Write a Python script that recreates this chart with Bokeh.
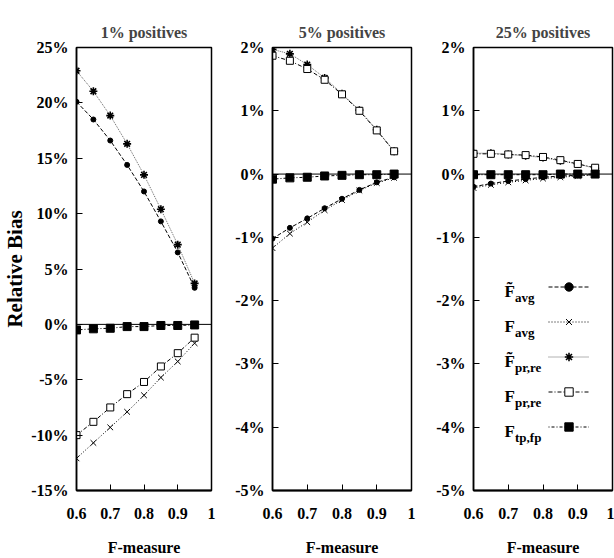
from bokeh.plotting import figure
from bokeh.layouts import row
from bokeh.models import (FixedTicker, CustomJSTickFormatter, Span, Legend,
                          LegendItem, Label, Range1d)
from bokeh.embed import file_html
from bokeh.resources import INLINE

# ---------------- data ----------------
X = [0.6, 0.65, 0.7, 0.75, 0.8, 0.85, 0.9, 0.95]
TITLES = ["1% positives", "5% positives", "25% positives"]
X_TICKS = [0.6, 0.7, 0.8, 0.9, 1.0]
Y_TICKS_1 = [-15, -10, -5, 0, 5, 10, 15, 20, 25]
Y_TICKS_2 = [-5, -4, -3, -2, -1, 0, 1, 2]
X_LABEL = "F-measure"
Y_LABEL = "Relative Bias"

SERIES = ["ft_avg", "f_avg", "ft_prre", "f_prre", "f_tpfp"]
LEGEND_BASE = ["F\u0303", "F", "F\u0303", "F", "F"]
LEGEND_SUB = ["avg", "avg", "pr,re", "pr,re", "tp,fp"]

# 1% positives
P1_FT_AVG = [20.1, 18.5, 16.6, 14.4, 12.0, 9.3, 6.5, 3.3]
P1_F_AVG = [-12.1, -10.7, -9.3, -7.9, -6.4, -4.8, -3.35, -1.7]
P1_FT_PRRE = [22.9, 21.05, 18.85, 16.3, 13.5, 10.4, 7.2, 3.7]
P1_F_PRRE = [-10.0, -8.8, -7.5, -6.3, -5.2, -3.8, -2.6, -1.2]
P1_F_TPFP = [-0.5, -0.4, -0.35, -0.2, -0.2, -0.1, -0.1, -0.05]

# 5% positives
P2_FT_AVG = [-1.02, -0.85, -0.70, -0.54, -0.39, -0.25, -0.13, -0.05]
P2_F_AVG = [-1.17, -0.94, -0.76, -0.57, -0.41, -0.26, -0.14, -0.06]
P2_FT_PRRE = [1.97, 1.90, 1.73, 1.52, 1.27, 1.01, 0.70, 0.36]
P2_F_PRRE = [1.87, 1.79, 1.66, 1.49, 1.26, 1.00, 0.69, 0.36]
P2_F_TPFP = [-0.08, -0.06, -0.05, -0.03, -0.02, -0.01, -0.01, 0.0]

# 25% positives
P3_FT_AVG = [-0.20, -0.15, -0.11, -0.08, -0.05, -0.03, -0.02, -0.01]
P3_F_AVG = [-0.22, -0.17, -0.13, -0.10, -0.07, -0.05, -0.03, -0.01]
P3_FT_PRRE = [0.33, 0.33, 0.31, 0.29, 0.26, 0.21, 0.16, 0.09]
P3_F_PRRE = [0.32, 0.32, 0.31, 0.30, 0.27, 0.22, 0.16, 0.10]
P3_F_TPFP = [-0.01, -0.01, -0.01, -0.01, -0.01, 0.0, 0.0, 0.0]

PANELS = [
    dict(title=TITLES[0], yr=(-15, 25), yticks=Y_TICKS_1,
         data=[P1_FT_AVG, P1_F_AVG, P1_FT_PRRE, P1_F_PRRE, P1_F_TPFP]),
    dict(title=TITLES[1], yr=(-5, 2), yticks=Y_TICKS_2,
         data=[P2_FT_AVG, P2_F_AVG, P2_FT_PRRE, P2_F_PRRE, P2_F_TPFP]),
    dict(title=TITLES[2], yr=(-5, 2), yticks=Y_TICKS_2,
         data=[P3_FT_AVG, P3_F_AVG, P3_FT_PRRE, P3_F_PRRE, P3_F_TPFP]),
]

# ---------------- styles ----------------
FONT = "Liberation Serif"
STYLE = {
    "ft_avg": dict(color="black", dash="4 2", marker="circle", size=5, fill="black", lw=1.0),
    "f_avg": dict(color="black", dash="1 2", marker="x", size=8, fill="black", lw=1.0),
    "ft_prre": dict(color="#666666", dash="1 1", marker="asterisk", size=8, fill="black", lw=1.6),
    "f_prre": dict(color="black", dash="4 2 1 2", marker="square", size=7, fill="white", lw=1.0),
    "f_tpfp": dict(color="black", dash="1 2 3 2", marker="square", size=8, fill="black", lw=1.0),
}

FRAME_WS = [140, 139, 139]
FRAME_H = 443
TOP = 47
HEIGHT = 558
BORDERS = [(71, 10), (51, 10), (52, 2)]


def make_panel(i, cfg):
    bl, br = BORDERS[i]
    fw = FRAME_WS[i]
    p = figure(width=bl + fw + br, height=HEIGHT, output_backend="svg",
               toolbar_location=None, x_range=Range1d(0.6, 1.0),
               y_range=Range1d(*cfg["yr"]), min_border_left=bl,
               min_border_right=br, min_border_top=TOP,
               min_border_bottom=HEIGHT - TOP - FRAME_H, title=cfg["title"])
    p.title.align = "center"
    p.title.vertical_align = "top"
    p.title.text_font = FONT
    p.title.text_font_style = "bold"
    p.title.text_font_size = "16px"
    p.title.standoff = 10
    p.xgrid.visible = False
    p.ygrid.visible = False
    p.outline_line_color = "black"
    p.outline_line_width = 1.5
    p.background_fill_color = "white"
    p.border_fill_color = "white"

    for ax in (p.xaxis[0], p.yaxis[0]):
        ax.major_tick_in = 6
        ax.major_tick_out = 0
        ax.minor_tick_in = 0
        ax.minor_tick_out = 0
        ax.major_label_text_font = FONT
        ax.major_label_text_font_style = "bold"
        ax.major_label_text_font_size = "16px"
        ax.major_label_text_color = "black"
        ax.axis_line_color = "black"
        ax.major_tick_line_color = "black"
        ax.axis_label_text_font = FONT
        ax.axis_label_text_font_style = "bold"
        ax.axis_label_text_color = "black"

    p.xaxis.ticker = FixedTicker(ticks=X_TICKS)
    p.xaxis.formatter = CustomJSTickFormatter(code="return String(Math.round(tick*10)/10);")
    p.xaxis.axis_line_width = 2
    p.xaxis.major_label_standoff = 17
    p.xaxis.axis_label = X_LABEL
    p.xaxis.axis_label_text_font_size = "16px"
    p.xaxis.axis_label_standoff = 17

    p.yaxis.ticker = FixedTicker(ticks=cfg["yticks"])
    p.yaxis.formatter = CustomJSTickFormatter(code="return Math.round(tick) + '%';")
    p.yaxis.axis_line_width = 1.5
    p.yaxis.major_label_standoff = 8
    if i == 0:
        p.yaxis.axis_label = Y_LABEL
        p.yaxis.axis_label_text_font_size = "21px"
        p.yaxis.axis_label_standoff = 1

    p.add_layout(Span(location=0, dimension="width", line_color="black", line_width=1))

    items = []
    for k, name in enumerate(SERIES):
        s = STYLE[name]
        ys = cfg["data"][k]
        lr = p.line(X, ys, line_color=s["color"], line_dash=s["dash"], line_width=1)
        sr = p.scatter(X, ys, marker=s["marker"], size=s["size"], line_color="black",
                       fill_color=s["fill"], line_width=s["lw"])
        items.append(LegendItem(label=" ", renderers=[lr, sr]))

    if i == 2:
        glyph_h, spacing = 21, 14
        n = len(items)
        leg_h = n * glyph_h + (n - 1) * spacing
        leg_bottom = 53
        leg_left = 75
        legend = Legend(items=items, location=(leg_left, leg_bottom), glyph_width=41,
                        glyph_height=glyph_h, spacing=spacing, padding=0, margin=0,
                        label_width=0, label_height=glyph_h, label_standoff=0,
                        label_text_font_size="1px", border_line_alpha=0,
                        background_fill_alpha=0)
        p.add_layout(legend)
        y0, y1 = cfg["yr"]
        px_y = (y1 - y0) / FRAME_H
        px_x = 0.4 / fw
        top_px = FRAME_H - leg_bottom - leg_h
        for k in range(n):
            c = top_px + glyph_h / 2 + k * (glyph_h + spacing)
            fy = y1 - (c + 4) * px_y
            sy = y1 - (c + 10) * px_y
            p.add_layout(Label(x=0.6 + 31 * px_x, y=fy, text=LEGEND_BASE[k],
                               text_font=FONT, text_font_style="bold",
                               text_font_size="17px", text_color="black",
                               text_baseline="alphabetic", text_align="left"))
            p.add_layout(Label(x=0.6 + 41.5 * px_x, y=sy, text=LEGEND_SUB[k],
                               text_font=FONT, text_font_style="bold",
                               text_font_size="13px", text_color="black",
                               text_baseline="alphabetic", text_align="left"))
    return p


figs = [make_panel(i, cfg) for i, cfg in enumerate(PANELS)]
layout = row(*figs)
open("out.html", "w").write(file_html(layout, INLINE))
